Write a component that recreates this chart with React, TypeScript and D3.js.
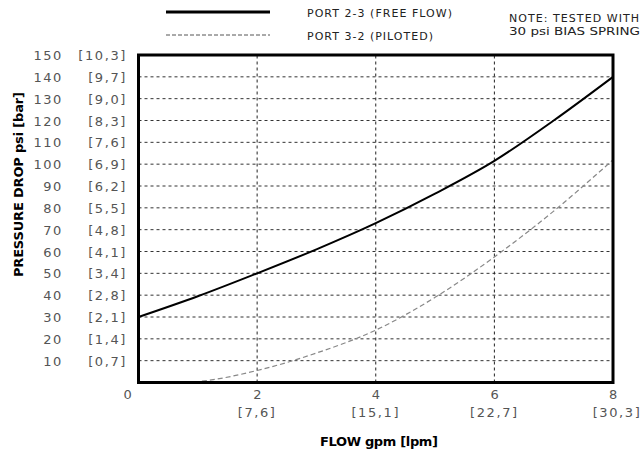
import React from "react";
import * as d3 from "d3";

// Flow in gpm, pressure drop in psi
const freeFlowX = [0, 1, 2, 3, 4, 5, 6, 7, 8];
const freeFlowY = [30, 39.5, 50, 61, 73, 86.5, 101.5, 120, 140];
const pilotedX = [0.8, 1, 2, 3, 4, 5, 6, 7, 8];
const pilotedY = [0, 0.4, 5.5, 13.5, 24, 39, 57.5, 78.5, 102];

const yTicks = [10, 20, 30, 40, 50, 60, 70, 80, 90, 100, 110, 120, 130, 140, 150];
const yBarLabels = ["0,7", "1,4", "2,1", "2,8", "3,4", "4,1", "4,8", "5,5", "6,2", "6,9", "7,6", "8,3", "9,0", "9,7", "10,3"];
const xTicks = [0, 2, 4, 6, 8];
const xLpmLabels = ["", "7,6", "15,1", "22,7", "30,3"];

const W = 642;
const H = 458;
const margin = { left: 138.5, right: 29, top: 55, bottom: 75.5 };
const FONT = "'DejaVu Sans', sans-serif";

export default function App() {
  const x = d3.scaleLinear().domain([0, 8]).range([margin.left, W - margin.right]);
  const y = d3.scaleLinear().domain([0, 150]).range([H - margin.bottom, margin.top]);

  const line = d3
    .line<[number, number]>()
    .x((d) => x(d[0]))
    .y((d) => y(d[1]))
    .curve(d3.curveMonotoneX);

  const freePath = line(freeFlowX.map((v, i) => [v, freeFlowY[i]]) as [number, number][]) || "";
  const pilotPath = line(pilotedX.map((v, i) => [v, pilotedY[i]]) as [number, number][]) || "";

  const labelStyle = {
    fontFamily: FONT,
    fontSize: 13,
    letterSpacing: 1.6,
    fill: "#555",
  } as React.CSSProperties;
  const legendStyle = { fontFamily: FONT, fontSize: 11, fill: "#222" } as React.CSSProperties;

  return (
    <svg width={W} height={H} style={{ position: "absolute", left: 0, top: 0, background: "#fff" }}>
      {/* grid */}
      {yTicks.slice(0, -1).map((t) => (
        <line key={"gy" + t} x1={x(0)} x2={x(8)} y1={y(t)} y2={y(t)} stroke="#333" strokeWidth={1} strokeDasharray="3 3" />
      ))}
      {xTicks.slice(1, -1).map((t) => (
        <line key={"gx" + t} x1={x(t)} x2={x(t)} y1={y(0)} y2={y(150)} stroke="#222" strokeWidth={1} strokeDasharray="3 3" />
      ))}

      {/* curves */}
      <path d={pilotPath} fill="none" stroke="#888" strokeWidth={1.2} strokeDasharray="5 3" />
      <path d={freePath} fill="none" stroke="#000" strokeWidth={2} />

      {/* frame */}
      <rect x={x(0)} y={y(150)} width={x(8) - x(0)} height={y(0) - y(150)} fill="none" stroke="#000" strokeWidth={3} />

      {/* y tick labels */}
      {yTicks.map((t, i) => (
        <g key={"yl" + t}>
          <text x={63} y={y(t) + 5} textAnchor="end" style={labelStyle}>{t}</text>
          <text x={127} y={y(t) + 5} textAnchor="end" style={labelStyle}>[{yBarLabels[i]}]</text>
        </g>
      ))}

      {/* x tick labels */}
      {xTicks.map((t, i) => (
        <g key={"xl" + t}>
          <text x={t === 0 ? x(t) - 10 : x(t) + 1} y={399} textAnchor="middle" style={labelStyle}>{t}</text>
          {xLpmLabels[i] && (
            <text x={t === 8 ? x(t) + 4 : x(t)} y={417} textAnchor="middle" style={labelStyle}>[{xLpmLabels[i]}]</text>
          )}
        </g>
      ))}

      {/* axis titles */}
      <text
        x={320}
        y={446}
        textLength={118}
        lengthAdjust="spacing"
        style={{ fontFamily: FONT, fontSize: 13, fontWeight: "bold", fill: "#000" }}
      >
        FLOW gpm [lpm]
      </text>
      <text
        transform={`translate(23, 277) rotate(-90)`}
        textLength={185}
        lengthAdjust="spacing"
        style={{ fontFamily: FONT, fontSize: 13, fontWeight: 600, fill: "#000" }}
      >
        PRESSURE DROP psi [bar]
      </text>

      {/* legend */}
      <line x1={166} x2={270} y1={12} y2={12} stroke="#000" strokeWidth={3} />
      <line x1={166} x2={270} y1={35} y2={35} stroke="#555" strokeWidth={1} strokeDasharray="4 2" />
      <text x={307} y={17} textLength={145} lengthAdjust="spacing" style={legendStyle}>PORT 2-3 (FREE FLOW)</text>
      <text x={307} y={40} textLength={126} lengthAdjust="spacing" style={legendStyle}>PORT 3-2 (PILOTED)</text>
      <text x={509} y={22} textLength={130} lengthAdjust="spacing" style={legendStyle}>NOTE: TESTED WITH</text>
      <text x={509} y={35} textLength={131} lengthAdjust="spacingAndGlyphs" style={legendStyle}>30 psi BIAS SPRING</text>
    </svg>
  );
}
